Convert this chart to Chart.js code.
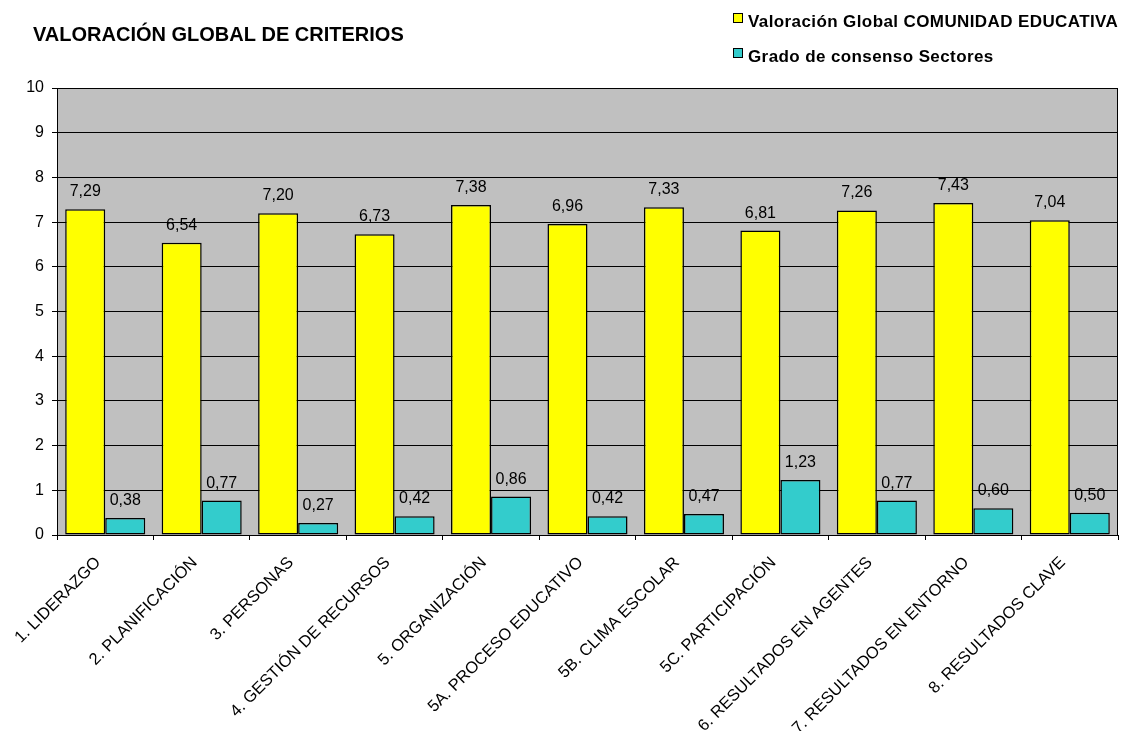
<!DOCTYPE html>
<html lang="es">
<head>
<meta charset="UTF-8">
<title>Valoración global de criterios</title>
<script src="https://cdn.jsdelivr.net/npm/chart.js@4.4.1/dist/chart.umd.min.js"></script>
<style>
  body { margin: 0; background: #fff; }
  #chart { display: block; }
</style>
</head>
<body>
<canvas id="chart" width="1129" height="731"></canvas>
<script>
  // datos
  const criterios = [
    '1. LIDERAZGO', '2. PLANIFICACIÓN', '3. PERSONAS', '4. GESTIÓN DE RECURSOS',
    '5. ORGANIZACIÓN', '5A. PROCESO EDUCATIVO', '5B. CLIMA ESCOLAR', '5C. PARTICIPACIÓN',
    '6. RESULTADOS EN AGENTES', '7. RESULTADOS EN ENTORNO', '8. RESULTADOS CLAVE'
  ];
  const valoracionGlobal = [7.29, 6.54, 7.20, 6.73, 7.38, 6.96, 7.33, 6.81, 7.26, 7.43, 7.04];
  const gradoConsenso = [0.38, 0.77, 0.27, 0.42, 0.86, 0.42, 0.47, 1.23, 0.77, 0.60, 0.50];
  const seriesNames = ['Valoración Global COMUNIDAD EDUCATIVA', 'Grado de consenso Sectores'];
  const tituloTexto = 'VALORACIÓN GLOBAL DE CRITERIOS';

  const FONT = '"Liberation Sans", Arial, sans-serif';
  const colores = ['#ffff00', '#33cccc'];

  // fondo gris del area de trazado + borde superior/derecho
  const plotArea = {
    id: 'plotArea',
    beforeDraw(chart) {
      const a = chart.chartArea, c = chart.ctx;
      c.save();
      c.fillStyle = '#c0c0c0';
      c.fillRect(a.left, a.top, a.right - a.left, a.bottom - a.top);
      c.restore();
    },
    afterDraw(chart) {
      const a = chart.chartArea, c = chart.ctx;
      c.save();
      c.strokeStyle = '#000';
      c.lineWidth = 1;
      c.strokeRect(Math.round(a.left) + 0.5, Math.round(a.top) + 0.5,
        Math.round(a.right - a.left) - 1, Math.round(a.bottom - a.top));
      c.restore();
    }
  };

  // etiquetas de valor sobre las barras (coma decimal)
  const valueLabels = {
    id: 'valueLabels',
    afterDatasetsDraw(chart) {
      const c = chart.ctx;
      c.save();
      c.font = '16px ' + FONT;
      c.fillStyle = '#000';
      c.textAlign = 'center';
      c.textBaseline = 'alphabetic';
      chart.data.datasets.forEach((ds, i) => {
        chart.getDatasetMeta(i).data.forEach((bar, j) => {
          const txt = ds.data[j].toFixed(2).replace('.', ',');
          c.fillText(txt, bar.x, bar.y - 13);
        });
      });
      c.restore();
    }
  };

  // etiquetas del eje X giradas 45 grados, ancladas como en Excel
  const xLabels = {
    id: 'xLabels',
    afterDraw(chart) {
      const xs = chart.scales.x, c = chart.ctx;
      c.save();
      c.font = '16.5px ' + FONT;
      c.fillStyle = '#000';
      c.textAlign = 'right';
      c.textBaseline = 'middle';
      chart.data.labels.forEach((lab, i) => {
        const x = xs.getPixelForTick(i);
        c.save();
        c.translate(x - 7, xs.top + 25);
        c.rotate(-Math.PI / 4);
        c.fillText(lab, 0, 0);
        c.restore();
      });
      c.restore();
    }
  };

  // titulo y leyenda como en la hoja de calculo
  const header = {
    id: 'header',
    afterDraw(chart) {
      const c = chart.ctx;
      c.save();
      c.fillStyle = '#000';
      c.textBaseline = 'alphabetic';
      c.textAlign = 'left';
      c.font = 'bold 20px ' + FONT;
      c.fillText(tituloTexto, 33, 41);

      c.font = 'bold 17px ' + FONT;
      c.letterSpacing = '0.4px';
      const rows = [27, 62];
      seriesNames.forEach((name, i) => {
        c.fillStyle = colores[i];
        c.fillRect(734, rows[i] - 13, 8, 8);
        c.strokeStyle = '#000';
        c.lineWidth = 1;
        c.strokeRect(733.5, rows[i] - 13.5, 9, 9);
        c.fillStyle = '#000';
        c.fillText(name, 748, rows[i]);
      });
      c.restore();
    }
  };

  new Chart(document.getElementById('chart'), {
    type: 'bar',
    data: {
      labels: criterios,
      datasets: [
        {
          label: seriesNames[0],
          data: valoracionGlobal,
          backgroundColor: colores[0],
          borderColor: '#000',
          borderWidth: 1.5,
          borderSkipped: false
        },
        {
          label: seriesNames[1],
          data: gradoConsenso,
          backgroundColor: colores[1],
          borderColor: '#000',
          borderWidth: 1.5,
          borderSkipped: false
        }
      ]
    },
    options: {
      responsive: false,
      animation: false,
      datasets: {
        bar: { categoryPercentage: 0.83, barPercentage: 1.0 }
      },
      layout: { padding: { top: 88, right: 11, left: 0, bottom: 0 } },
      plugins: {
        legend: { display: false },
        title: { display: false },
        tooltip: { enabled: false }
      },
      scales: {
        x: {
          afterFit(scale) { scale.height = 196; },
          grid: {
            drawOnChartArea: false,
            drawTicks: true,
            tickLength: 5,
            tickColor: '#000',
            offset: true
          },
          border: { display: true, color: '#000' },
          ticks: { display: false, autoSkip: false }
        },
        y: {
          min: 0,
          max: 10,
          afterFit(scale) { scale.width = 57; },
          grid: {
            color: '#000',
            lineWidth: 1,
            drawTicks: true,
            tickLength: 5,
            tickColor: '#000'
          },
          border: { display: true, color: '#000' },
          ticks: {
            stepSize: 1,
            padding: 8,
            color: '#000',
            font: { family: FONT, size: 16 }
          }
        }
      }
    },
    plugins: [plotArea, valueLabels, xLabels, header]
  });
</script>
</body>
</html>
